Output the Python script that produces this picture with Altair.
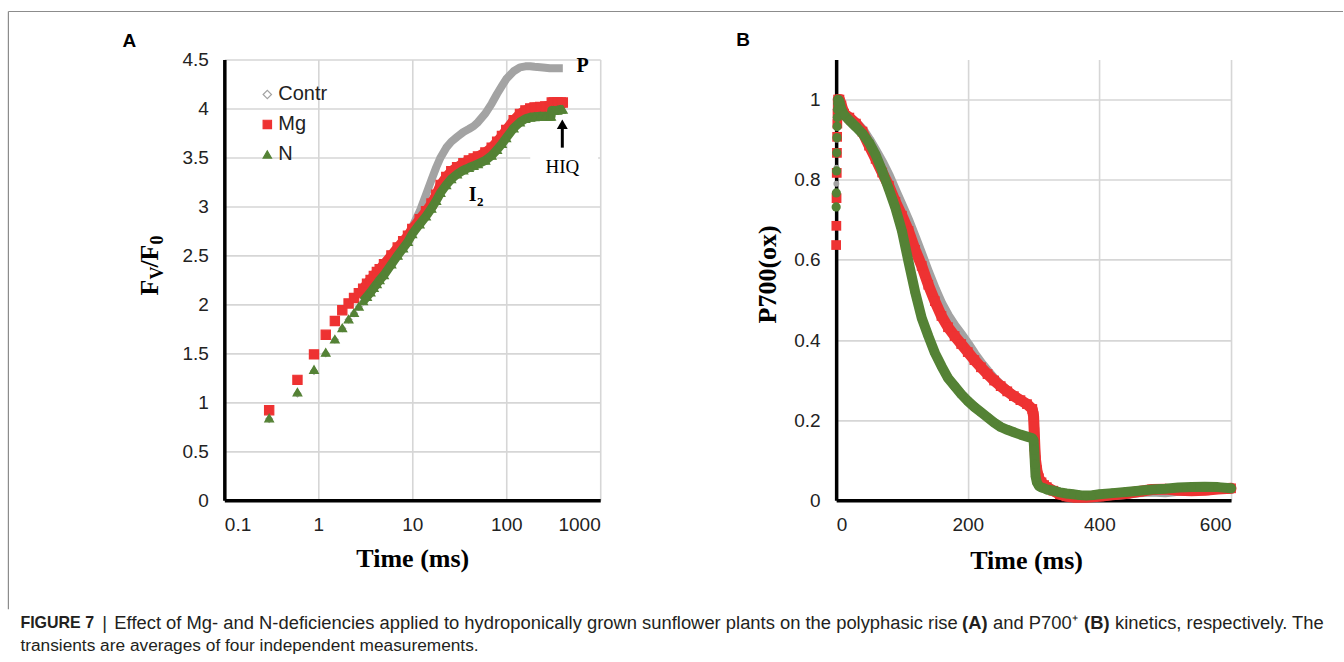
import altair as alt
import pandas as pd

# ---------------- data ----------------
series = ["Contr", "Mg", "N"]
colors = ["#A3A3A3", "#EE3232", "#548235"]

# Panel A: Fv/F0 vs time (ms, log axis)
a_time = [0.3, 0.6, 0.9, 1.2, 1.5, 1.8, 2.1, 2.4, 2.7, 3.0, 3.3, 3.6, 3.9, 4.2, 4.5,
          5, 6, 7, 8, 9, 10, 12, 14, 16, 18, 20, 23, 26, 30, 35, 40, 45, 50, 60, 70,
          80, 90, 100, 120, 140, 160, 180, 200, 230, 260, 290, 300, 305, 320, 350, 380, 400]
a_contr = [0.83, 1.09, 1.32, 1.50, 1.64, 1.755, 1.845, 1.91, 1.975, 2.03, 2.08, 2.125, 2.17, 2.21, 2.25,
           2.31, 2.42, 2.52, 2.60, 2.68, 2.79, 2.95, 3.12, 3.27, 3.40, 3.50, 3.60, 3.66, 3.71, 3.76, 3.79,
           3.82, 3.86, 3.95, 4.05, 4.15, 4.23, 4.30, 4.38, 4.42, 4.43, 4.43, 4.425, 4.42, 4.415, 4.41,
           4.41, 4.41, 4.41, 4.41, 4.41, 4.41]
a_mg = [0.92, 1.23, 1.49, 1.69, 1.83, 1.94, 2.01, 2.065, 2.115, 2.16, 2.21, 2.25, 2.29, 2.33, 2.36,
        2.41, 2.50, 2.58, 2.645, 2.70, 2.77, 2.87, 2.95, 3.03, 3.12, 3.22, 3.30, 3.36, 3.40, 3.44, 3.47,
        3.49, 3.51, 3.55, 3.60, 3.66, 3.72, 3.78, 3.88, 3.945, 3.98, 4.00, 4.01, 4.015, 4.02, 4.02,
        4.02, 4.06, 4.06, 4.06, 4.06, 4.06]
a_n = [0.84, 1.105, 1.335, 1.51, 1.645, 1.76, 1.85, 1.915, 1.98, 2.035, 2.08, 2.125, 2.17, 2.21, 2.25,
       2.30, 2.41, 2.50, 2.575, 2.64, 2.72, 2.82, 2.90, 2.98, 3.06, 3.14, 3.22, 3.28, 3.33, 3.37, 3.395,
       3.415, 3.435, 3.47, 3.52, 3.58, 3.64, 3.70, 3.80, 3.86, 3.895, 3.91, 3.915, 3.92, 3.92, 3.92,
       3.92, 3.98, 3.98, 3.98, 3.99, 3.99]

# Panel B: P700(ox) vs time (ms)
b_time = [0, 0.3, 0.6, 0.9, 1.2, 1.5, 1.8, 2.1, 2.4, 3, 5, 8, 12, 20, 30, 40, 50, 60, 70, 80, 90,
          100, 110, 120, 130, 140, 150, 160, 170, 180, 190, 200, 210, 220, 230, 240, 250, 260, 270,
          280, 290, 298, 300, 301, 302, 303, 305, 308, 312, 316, 320, 330, 340, 350, 360, 370, 380,
          390, 400, 420, 440, 460, 480, 500, 520, 540, 560, 580, 600]
b_contr = [0.76, 0.79, 0.83, 0.87, 0.90, 0.93, 0.955, 0.975, 0.99, 1.0, 1.0, 0.985, 0.965, 0.955, 0.942,
           0.925, 0.90, 0.872, 0.843, 0.81, 0.772, 0.735, 0.697, 0.655, 0.612, 0.568, 0.527, 0.49, 0.46,
           0.435, 0.413, 0.39, 0.365, 0.342, 0.322, 0.303, 0.287, 0.273, 0.261, 0.25, 0.24, 0.228, 0.21,
           0.17, 0.13, 0.10, 0.07, 0.05, 0.04, 0.035, 0.03, 0.022, 0.015, 0.012, 0.01, 0.01, 0.01, 0.01,
           0.011, 0.013, 0.016, 0.02, 0.022, 0.02, 0.024, 0.026, 0.028, 0.028, 0.028]
b_mg = [0.637, 0.685, 0.754, 0.817, 0.867, 0.907, 0.94, 0.965, 0.985, 1.0, 1.0, 0.985, 0.965, 0.955, 0.94,
        0.92, 0.885, 0.852, 0.818, 0.785, 0.745, 0.71, 0.672, 0.625, 0.585, 0.538, 0.497, 0.46, 0.432,
        0.41, 0.39, 0.37, 0.35, 0.332, 0.315, 0.299, 0.285, 0.272, 0.26, 0.25, 0.24, 0.228, 0.21,
        0.17, 0.13, 0.10, 0.075, 0.055, 0.045, 0.038, 0.033, 0.024, 0.015, 0.01, 0.008, 0.008, 0.008,
        0.009, 0.01, 0.014, 0.017, 0.022, 0.027, 0.028, 0.025, 0.024, 0.025, 0.028, 0.03]
b_n = [0.732, 0.767, 0.822, 0.867, 0.905, 0.933, 0.955, 0.975, 0.99, 1.0, 0.995, 0.975, 0.962, 0.948, 0.932,
       0.915, 0.893, 0.862, 0.822, 0.777, 0.73, 0.672, 0.595, 0.52, 0.455, 0.41, 0.368, 0.335, 0.305,
       0.285, 0.265, 0.248, 0.233, 0.22, 0.207, 0.194, 0.183, 0.176, 0.17, 0.164, 0.159, 0.155, 0.15,
       0.125, 0.09, 0.06, 0.045, 0.036, 0.032, 0.03, 0.027, 0.024, 0.02, 0.017, 0.015, 0.013, 0.012,
       0.013, 0.015, 0.018, 0.021, 0.024, 0.027, 0.029, 0.032, 0.033, 0.034, 0.033, 0.03]

# annotation anchors in data units of panel A
p_label = {"t": [650], "v": [4.43], "txt": ["P"]}
hiq_label = {"t": [395], "v": [3.40], "txt": ["HIQ"]}
hiq_box = {"t": [180], "t2": [950], "v": [3.5]}
i2_label = {"t": [44], "v": [3.12], "txt": ["I"]}
i2_sub = {"t": [53], "v": [3.05], "txt": ["2"]}
arrow_shaft = {"t": [395], "v": [3.60], "v2": [3.80]}
arrow_head = {"t": [395], "v": [3.84]}

caption1 = "Effect of Mg- and N-deficiencies applied to hydroponically grown sunflower plants on the polyphasic rise"
caption2 = "transients are averages of four independent measurements."

# ---------------- helpers ----------------
RED, GREEN, GRAY = colors[1], colors[2], colors[0]
SANS = "Liberation Sans"
SERIF = "Liberation Serif"


def long(t, vals, name):
    return pd.DataFrame({"t": t, "v": vals, "s": name})


def txt(label, x, y, **kw):
    return alt.Chart(pd.DataFrame({"label": [label]})).mark_text(**kw).encode(
        x=alt.value(x), y=alt.value(y), text="label:N")


grid_color = "#D6D6D6"
ax_common = dict(labelFont=SANS, labelFontSize=19, labelColor="#222", ticks=False, tickSize=0,
                 domainColor="#000", domainWidth=3.5, gridColor=grid_color, gridWidth=1.6)

# ---------------- Panel A ----------------
WA, HA = 376, 441
xA = alt.X("t:Q", scale=alt.Scale(type="log", domain=[0.1, 1000], nice=False),
           axis=alt.Axis(values=[0.1, 1, 10, 100, 1000], format="~g", title="Time (ms)",
                         titleFont=SERIF, titleFontSize=26, titleFontWeight="bold", titleColor="#000",
                         titlePadding=11, labelPadding=15, **ax_common))
yA = alt.Y("v:Q", scale=alt.Scale(domain=[0, 4.5], nice=False),
           axis=alt.Axis(values=[0, 0.5, 1, 1.5, 2, 2.5, 3, 3.5, 4, 4.5], format="~g", title=None,
                         labelPadding=16, **ax_common))

leg = alt.Legend(title=None, orient="none", legendX=33, legendY=25, labelFont=SANS, labelFontSize=20,
                 labelColor="#222", symbolSize=70, rowPadding=10, labelOffset=1, padding=0,
                 symbolStrokeWidth=1.2)
strokeA = alt.Stroke("s:N", scale=alt.Scale(domain=series, range=colors), legend=leg)
fillA = alt.Fill("s:N", scale=alt.Scale(domain=series, range=["#FFFFFF", RED, GREEN]), legend=leg)
shapeA = alt.Shape("s:N", scale=alt.Scale(domain=series, range=["diamond", "square", "triangle-up"]),
                   legend=leg)

# white box behind the HIQ label (interrupts the 3.5 gridline as in the original)
boxA = [alt.Chart(pd.DataFrame(hiq_box)).mark_rule(color="#FFFFFF", strokeWidth=3).encode(
    x=alt.X("t:Q"), x2="t2:Q", y=alt.Y("v:Q"))]

a_vals = {"Contr": a_contr, "Mg": a_mg, "N": a_n}
a_width = {"Contr": 8, "Mg": 10, "N": 9}
a_size = {"Contr": 45, "Mg": 85, "N": 75}
layersA = []
for s in series:
    df = long(a_time, a_vals[s], s)
    line = alt.Chart(df[df.t >= 3.0]).mark_line(strokeWidth=a_width[s], strokeCap="butt",
                                                 strokeJoin="round").encode(x=xA, y=yA, stroke=strokeA)
    pts_df = df if s != "Contr" else df[df.t <= 4.5]
    pts = alt.Chart(pts_df).mark_point(filled=True, size=a_size[s], strokeWidth=1.2, opacity=1).encode(
        x=xA, y=yA, stroke=strokeA, fill=fillA, shape=shapeA)
    layersA += [line, pts]

annA = [
    alt.Chart(pd.DataFrame(p_label)).mark_text(font=SERIF, fontWeight="bold", fontSize=20, color="#000",
                                              align="center", baseline="middle").encode(
        x=alt.X("t:Q"), y=alt.Y("v:Q"), text="txt:N"),
    alt.Chart(pd.DataFrame(hiq_label)).mark_text(font=SERIF, fontSize=19, color="#000",
                                                align="center", baseline="middle").encode(
        x=alt.X("t:Q"), y=alt.Y("v:Q"), text="txt:N"),
    alt.Chart(pd.DataFrame(i2_label)).mark_text(font=SERIF, fontWeight="bold", fontSize=20, color="#000",
                                               align="center", baseline="middle").encode(
        x=alt.X("t:Q"), y=alt.Y("v:Q"), text="txt:N"),
    alt.Chart(pd.DataFrame(i2_sub)).mark_text(font=SERIF, fontWeight="bold", fontSize=13, color="#000",
                                             align="center", baseline="middle").encode(
        x=alt.X("t:Q"), y=alt.Y("v:Q"), text="txt:N"),
    alt.Chart(pd.DataFrame(arrow_shaft)).mark_rule(color="#000", strokeWidth=3).encode(
        x=alt.X("t:Q"), y=alt.Y("v:Q"), y2="v2:Q"),
    alt.Chart(pd.DataFrame(arrow_head)).mark_point(shape="triangle-up", filled=True, color="#000",
                                                  size=120, opacity=1).encode(
        x=alt.X("t:Q"), y=alt.Y("v:Q")),
]

# y title F_V/F_0 built from pieces (rotated)
ttl = dict(font=SERIF, fontWeight="bold", color="#000", angle=270, align="left", baseline="alphabetic")
yTitleA = [
    txt("F", -66, 236, fontSize=26, **ttl),
    txt("V", -61, 220, fontSize=18, **ttl),
    txt("/", -66, 208, fontSize=26, **ttl),
    txt("F", -66, 201, fontSize=26, **ttl),
    txt("0", -61, 185, fontSize=18, **ttl),
]

# frame, panel letters and caption (pixel offsets from panel A's plot origin at 224,59)
frame = [
    alt.Chart(pd.DataFrame({"k": [0]})).mark_rule(color="#8C8C8C", strokeWidth=1.2).encode(
        x=alt.value(-216), x2=alt.value(1119), y=alt.value(-48)),
    alt.Chart(pd.DataFrame({"k": [0]})).mark_rule(color="#8C8C8C", strokeWidth=1.2).encode(
        x=alt.value(-216), y=alt.value(-48), y2=alt.value(550)),
]
capt = dict(font=SANS, fontSize=18.4, color="#231F20", align="left", baseline="middle")
capt2 = dict(font=SANS, fontSize=17.3, color="#231F20", align="left", baseline="middle")
caption = [
    txt("A", -95, -18, font=SANS, fontWeight="bold", fontSize=19, color="#000"),
    txt("FIGURE 7", -204, 564, font=SANS, fontSize=16, fontWeight="bold", color="#231F20",
        align="left", baseline="middle"),
    txt("|", -122, 564, **capt),
    txt(caption1, -110, 564, **capt),
    txt("(A)", 738, 564, fontWeight="bold", **capt),
    txt("and P700\u207a", 769, 564, **capt),
    txt("(B)", 860, 564, fontWeight="bold", **capt),
    txt("kinetics, respectively. The", 891, 564, **capt),
    txt(caption2, -204, 587, **capt2),
]

panelA = alt.layer(*(frame + boxA + layersA + annA + yTitleA + caption)).properties(width=WA, height=HA)

# ---------------- Panel B ----------------
WB, HB = 395, 441
xB = alt.X("t:Q", scale=alt.Scale(domain=[0, 600], nice=False),
           axis=alt.Axis(values=[0, 200, 400, 600], format="d", title="Time (ms)",
                         titleFont=SERIF, titleFontSize=26, titleFontWeight="bold", titleColor="#000",
                         titlePadding=13, titleX=190, labelPadding=15, **ax_common))
yB = alt.Y("v:Q", scale=alt.Scale(domain=[0, 1.1], nice=False),
           axis=alt.Axis(values=[0, 0.2, 0.4, 0.6, 0.8, 1.0], format="~g", title=None,
                         labelPadding=16, **ax_common))
strokeB = alt.Stroke("s:N", scale=alt.Scale(domain=series, range=colors), legend=None)
shapeB = alt.Shape("s:N", scale=alt.Scale(domain=series, range=["circle", "square", "circle"]), legend=None)

b_vals = {"Contr": b_contr, "Mg": b_mg, "N": b_n}
b_width = {"Contr": 10, "Mg": 11, "N": 10}
b_size = {"Contr": 35, "Mg": 95, "N": 85}
layersB = []
for s in series:
    df = long(b_time, b_vals[s], s)
    line = alt.Chart(df[df.t >= 3]).mark_line(strokeWidth=b_width[s], strokeCap="round",
                                               strokeJoin="round").encode(x=xB, y=yB, stroke=strokeB)
    pts = alt.Chart(df).mark_point(filled=True, size=b_size[s], opacity=1).encode(
        x=xB, y=yB, fill=alt.Fill("s:N", scale=alt.Scale(domain=series, range=colors), legend=None),
        shape=shapeB)
    layersB += [line, pts]

yTitleB = [txt("P700(ox)", -60, 215, fontSize=26, font=SERIF, fontWeight="bold", color="#000",
               angle=270, align="center", baseline="alphabetic")]
labelB = [txt("B", -93, -19, font=SANS, fontWeight="bold", fontSize=19, color="#000")]

panelB = alt.layer(*(layersB + yTitleB + labelB)).properties(width=WB, height=HB)

chart = alt.hconcat(panelA, panelB, spacing=236, bounds="flush").resolve_scale(
    x="independent", y="independent", stroke="independent", shape="independent", fill="independent"
).resolve_legend(stroke="independent", shape="independent", fill="independent").properties(
    padding={"left": 7.4, "top": 10.4, "right": 0, "bottom": 0}, background="white"
).configure_view(stroke=None)

chart.save("out.html", embed_options={"renderer": "svg", "actions": False})
